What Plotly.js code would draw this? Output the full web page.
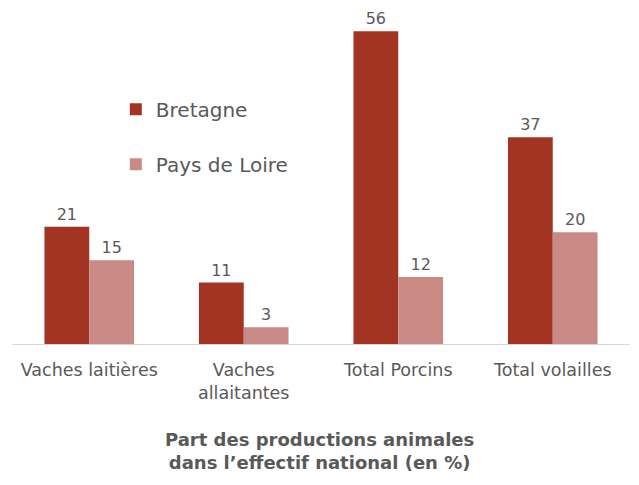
<!DOCTYPE html>
<html>
<head>
<meta charset="utf-8">
<script src="https://cdn.plot.ly/plotly-3.0.1.min.js"></script>
<style>html,body{margin:0;padding:0;background:#fff}#chart{width:639px;height:485px}</style>
</head>
<body>
<div id="chart"></div>
<script>
const categories = ["Vaches laitières", "Vaches<br>allaitantes", "Total Porcins", "Total volailles"];
const bretagne = [21, 11, 56, 37];
const paysDeLoire = [15, 3, 12, 20];
const seriesNames = ["Bretagne", "Pays de Loire"];
const titleText = "<b>Part des productions animales<br>dans l’effectif national (en %)</b>";

const FONT = "DejaVu Sans, sans-serif";
const GREY = "#595959";

const traces = [
  {type: "bar", name: seriesNames[0], x: categories, y: bretagne, legendgroup: "a",
   marker: {color: "#A33322"}, text: bretagne.map(String), textposition: "outside",
   textfont: {family: FONT, size: 16, color: GREY}, cliponaxis: false},
  {type: "bar", name: seriesNames[1], x: categories, y: paysDeLoire, legendgroup: "b",
   marker: {color: "#C98985"}, text: paysDeLoire.map(String), textposition: "outside",
   textfont: {family: FONT, size: 16, color: GREY}, cliponaxis: false}
];

const layout = {
  width: 639, height: 485,
  margin: {l: 12, r: 9, t: 20, b: 141},
  paper_bgcolor: "#fff", plot_bgcolor: "#fff",
  font: {family: FONT, color: GREY},
  barmode: "group", bargap: 0.42, bargroupgap: 0,
  showlegend: true,
  legend: {x: 0.168, y: 0.64, xanchor: "left", yanchor: "middle", traceorder: "grouped",
           tracegroupgap: 26, font: {family: FONT, size: 20, color: GREY}, bgcolor: "rgba(0,0,0,0)"},
  xaxis: {showline: true, linecolor: "#D9D9D9", linewidth: 1, ticks: "", showgrid: false,
          ticklabelstandoff: 10,
          tickfont: {family: FONT, size: 17.5, color: GREY}, fixedrange: true},
  yaxis: {range: [0, 58], visible: false, showgrid: false, zeroline: false, fixedrange: true},
  annotations: [{text: titleText, xref: "paper", yref: "paper", x: 0.497, y: -0.255,
                 xanchor: "center", yanchor: "top", showarrow: false,
                 font: {family: FONT, size: 18, color: GREY}}]
};

Plotly.newPlot("chart", traces, layout, {displayModeBar: false, staticPlot: true});
</script>
</body>
</html>
